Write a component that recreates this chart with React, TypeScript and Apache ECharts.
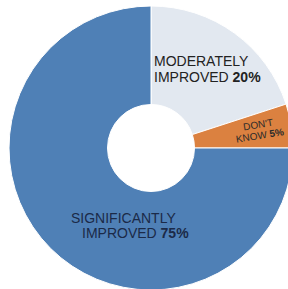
import React, { useEffect, useRef } from "react";
import * as echarts from "echarts";

const categories = ["MODERATELY IMPROVED", "DON'T KNOW", "SIGNIFICANTLY IMPROVED"];
const values = [20, 5, 75];
const colors = ["#e2e8f0", "#db8140", "#4f80b6"];

export default function App() {
  const ref = useRef<HTMLDivElement>(null);
  useEffect(() => {
    document.body.style.margin = "0";
    const chart = echarts.init(ref.current!, undefined, { renderer: "svg" });
    const layouts = [
      { x: 154, y: 53, align: "left", verticalAlign: "top", rotate: 0 },
      { x: 259, y: 130, align: "center", verticalAlign: "middle", rotate: 9 },
      { x: 71, y: 210, align: "left", verticalAlign: "top", rotate: 0 },
    ];
    const formatters = [
      "{a|MODERATELY}\n{a|IMPROVED }{b|20%}",
      "{s|DON'T}\n{s|KNOW }{sb|5%}",
      "{n|SIGNIFICANTLY}\n{ni|IMPROVED }{nb|75%}",
    ];
    const font = "'Liberation Sans', Arial, Helvetica, sans-serif";
    chart.setOption({
      animation: false,
      series: [
        {
          type: "pie",
          center: [151, 148],
          radius: [43.5, 142],
          startAngle: 90,
          clockwise: true,
          silent: true,
          itemStyle: { borderColor: "#ffffff", borderWidth: 1 },
          label: {
            show: true,
            position: "inside",
            fontFamily: font,
            rich: {
              a: { fontSize: 14, lineHeight: 16, color: "#222222", fontFamily: font },
              b: { fontSize: 14, lineHeight: 16, color: "#222222", fontWeight: "bold", fontFamily: font },
              s: { fontSize: 10, lineHeight: 11, color: "#2a2a2a", fontFamily: font },
              sb: { fontSize: 10, lineHeight: 11, color: "#2a2a2a", fontWeight: "bold", fontFamily: font },
              n: { fontSize: 14, lineHeight: 15, color: "#1b2a48", fontFamily: font },
              ni: { fontSize: 14, lineHeight: 15, color: "#1b2a48", fontFamily: font, padding: [0, 0, 0, 11] },
              nb: { fontSize: 14, lineHeight: 15, color: "#1b2a48", fontWeight: "bold", fontFamily: font },
            },
            formatter: (p: any) => formatters[p.dataIndex],
          },
          labelLine: { show: false },
          labelLayout: (p: any) => layouts[p.dataIndex],
          data: categories.map((c, i) => ({
            name: c,
            value: values[i],
            itemStyle: { color: colors[i] },
          })),
        },
      ],
    });
    return () => chart.dispose();
  }, []);
  return <div ref={ref} style={{ width: 288, height: 289 }} />;
}
